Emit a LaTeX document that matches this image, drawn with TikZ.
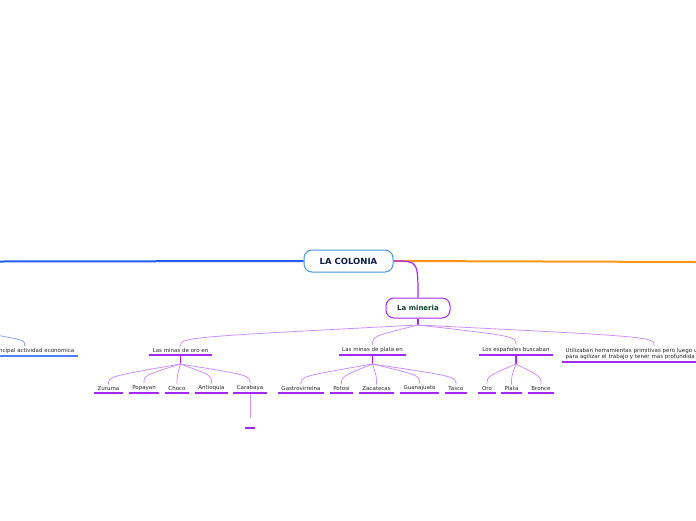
\documentclass[tikz,border=0pt]{standalone}
\usepackage{fontspec}
\setmainfont{DejaVu Sans}
\usepackage{tikz}
\definecolor{colblue}{RGB}{30, 95, 240}
\definecolor{colorange}{RGB}{255, 150, 25}
\definecolor{colborder}{RGB}{70, 150, 225}
\definecolor{colnavy}{RGB}{15, 30, 70}
\definecolor{minpurple}{RGB}{165, 40, 250}
\definecolor{minlink}{RGB}{205, 145, 255}
\definecolor{mingreen}{RGB}{15, 65, 45}
\definecolor{labelgray}{RGB}{40, 40, 40}
\definecolor{lightblue}{RGB}{140, 165, 245}

\tikzset{
  leaf/.style={font=\fontsize{5.5}{6.5}\selectfont, text=labelgray,
               inner xsep=3.5pt, inner ysep=2pt, anchor=south},
  uline/.style={minpurple, line width=1.8pt},
  link/.style={minlink, line width=0.8pt},
  stem/.style={minpurple, line width=1.5pt},
}

\begin{document}
\begin{tikzpicture}[x=1pt, y=-1pt]
    \useasboundingbox (0,0) rectangle (696,520);

    %% central topic
    \node[draw=colborder, line width=1pt, rounded corners=8pt, fill=white,
          minimum width=89pt, minimum height=22pt, text=colnavy,
          font=\fontsize{8.5}{10}\selectfont\bfseries] (colonia) at (348.5,261) {LA COLONIA};
    \coordinate (leftend) at (0,261.5);
    \coordinate (rightend) at (696,262);
    \draw[colblue, line width=2pt] (colonia.west) -- (leftend);
    \draw[colorange, line width=2pt] (colonia.east) -- (rightend);

    %% main branch
    \node[draw=minpurple, line width=1pt, rounded corners=8pt, fill=white,
          minimum width=64pt, minimum height=20pt, text=mingreen,
          font=\fontsize{7}{8}\selectfont\bfseries] (mineria) at (418,308) {La mineria};
    \draw[minpurple, line width=1.2pt]
      (colonia.east) .. controls (mineria.north |- colonia.east) .. (mineria.north);
    \coordinate (minfork) at (418,325);
    \draw[stem] (mineria.south) -- (minfork);

    %% first level
    \node[leaf] (oro) at (180.5,355) {Las minas de oro en};
    \node[leaf] (plata) at (372.5,355) {Las minas de plata en};
    \node[leaf] (buscaban) at (516,355) {Los españoles buscaban};
    \node[leaf, anchor=south west, align=left, text width=177pt] (herram) at (562,362)
      {Utilizaban herramientas primitivas pero luego u\\para agilizar el trabajo y tener mas profundida};
    \foreach \n in {oro, plata, buscaban, herram}
      \draw[link] (minfork) .. controls ([yshift=9pt]\n.north) .. (\n.north);

    %% left branch (cut off)
    \node[leaf, anchor=south east, align=right, text width=99pt] (economica) at (78,356)
      {ncipal actividad economica};
    \coordinate (ecoparent) at (-4,335);
    \draw[lightblue, line width=0.8pt]
      (ecoparent) .. controls ([yshift=6pt]economica.north) .. (economica.north);
    \draw[colblue!80!white, line width=1.8pt] (economica.south west) -- (economica.south east);

    %% forks
    \coordinate (orofork) at (180.5,364);
    \coordinate (platafork) at (372.5,364);
    \coordinate (buscafork) at (516,364);
    \draw[stem] (oro.south) -- (orofork);
    \draw[stem] (plata.south) -- (platafork);
    \draw[stem] (buscaban.south) -- (buscafork);

    %% second level
    \foreach \n/\x/\t in {zuruma/108.5/Zuruma, popayan/144/Popayan, choco/177/Choco,
                          antioquia/211.5/Antioquia, carabaya/250/Carabaya} {
      \node[leaf] (\n) at (\x,393) {\t};
      \draw[link] (orofork) .. controls ([yshift=8pt]\n.north) .. (\n.north);
    }
    \foreach \n/\x/\t in {gastro/301/Gastrovirreina, potosi/341.5/Potosi, zacatecas/376.5/Zacatecas,
                          guanajuato/419.5/Guanajuato, tasco/456/Tasco} {
      \node[leaf] (\n) at (\x,393) {\t};
      \draw[link] (platafork) .. controls ([yshift=8pt]\n.north) .. (\n.north);
    }
    \foreach \n/\x/\t in {oromet/487/Oro, platamet/511.5/Plata, bronce/541/Bronce} {
      \node[leaf] (\n) at (\x,393) {\t};
      \draw[link] (buscafork) .. controls ([yshift=8pt]\n.north) .. (\n.north);
    }

    %% empty child
    \node[leaf, minimum width=10pt, minimum height=10pt, inner xsep=0pt] (caraempty) at (250,428) {};
    \draw[link] (carabaya.south) -- (caraempty.north);

    %% underlines
    \foreach \n in {oro, plata, buscaban, herram, zuruma, popayan, choco, antioquia, carabaya,
                    gastro, potosi, zacatecas, guanajuato, tasco, oromet, platamet, bronce, caraempty}
      \draw[uline] (\n.south west) -- (\n.south east);
  \end{tikzpicture}
\end{document}
